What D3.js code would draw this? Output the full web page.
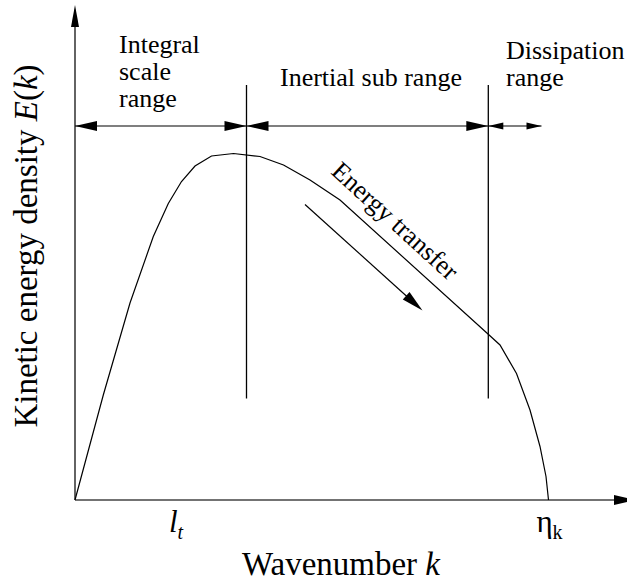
<!DOCTYPE html>
<html>
<head>
<meta charset="utf-8">
<script src="https://cdn.jsdelivr.net/npm/d3@7"></script>
<style>
  @font-face { font-family: "ChartSerif"; font-style: normal; src: local("Liberation Serif"), local("LiberationSerif"), local("Tinos"); }
  @font-face { font-family: "ChartSerif"; font-style: italic; src: local("Liberation Serif Italic"), local("LiberationSerif-Italic"), local("Tinos Italic"); }
  #chart text { font-family: "Liberation Serif", "ChartSerif", Tinos, "Nimbus Roman", FreeSerif, "DejaVu Serif", serif !important; }
</style>
</head>
<body style="margin:0">
<svg id="chart" width="627" height="585"></svg>
<script>
// Energy spectrum E(k) versus wavenumber k (arbitrary units)
const spectrumK = [0, 5.66, 11, 15.66, 18.66, 21.3, 24, 27.3, 31.7, 37, 41.7, 47, 53, 82.6, 85, 88.3, 91, 93, 94.2, 94.7];
const spectrumE = [0, 21, 39.4, 52.7, 59.3, 63.7, 66.8, 68.8, 69.3, 68.7, 67, 64, 60, 33.2, 31, 25.3, 18, 10.7, 4.7, 0];

// Boundaries between the ranges (k) and the extent of the separator lines (E)
const boundaryK = [34.3, 82.66];
const boundaryE = [20.3, 83];

// Span of each range arrow along k, drawn at level rangeLevel
const rangeSpans = [[0, 34.3], [34.3, 82.66], [82.66, 93.3]];
const rangeLevel = 74.8;

// Energy transfer arrow: start and end (k, E)
const transferArrow = [[46, 59.1], [69.5, 37.9]];

// Tick labels on the k axis
const tickK = [20.2, 94.9];
const tickLabels = [
  { main: "l", sub: "t", italic: true },
  { main: "η", sub: "k", italic: false }
];

const svg = d3.select("#chart");
const x = d3.scaleLinear().domain([0, 110]).range([75, 625]);
const y = d3.scaleLinear().domain([0, 99]).range([500, 5]);

// Filled triangular arrowhead with its tip at (tx, ty) pointing along angle a
function head(tx, ty, a, len, half) {
  const c = Math.cos(a), s = Math.sin(a);
  const bx = tx - c * len, by = ty - s * len;
  return `M${tx},${ty}L${bx - s * half},${by + c * half}L${bx + s * half},${by - c * half}Z`;
}

const fams = ["Liberation Serif", "ChartSerif", "Tinos", "Nimbus Roman", "FreeSerif", "DejaVu Serif"];
const serifStack = fams.map(f => `"${f}"`).join(", ") + ", serif";

// Serif text helper
function label(parent, size) {
  return parent.append("text").attr("font-size", size)
    .attr("font-family", serifStack)
    .style("font-family", serifStack);
}

// Axes
svg.append("line").attr("x1", x(0)).attr("y1", y(0)).attr("x2", x(0)).attr("y2", y(99) + 10)
  .attr("stroke", "#222").attr("stroke-width", 1.4);
svg.append("path").attr("d", head(x(0), y(99), -Math.PI / 2, 22, 4)).attr("fill", "#000");
svg.append("line").attr("x1", x(0)).attr("y1", y(0)).attr("x2", 620).attr("y2", y(0))
  .attr("stroke", "#444").attr("stroke-width", 1.6);
svg.append("path").attr("d", head(636, y(0), 0, 22, 5)).attr("fill", "#000");

// Spectrum curve
const line = d3.line().x((d, i) => x(spectrumK[i])).y((d, i) => y(spectrumE[i]));
svg.append("path").datum(spectrumK).attr("d", line)
  .attr("fill", "none").attr("stroke", "#000").attr("stroke-width", 1.2);

// Range boundaries
svg.selectAll(".bound").data(boundaryK).enter().append("line")
  .attr("x1", d => x(d)).attr("x2", d => x(d))
  .attr("y1", y(boundaryE[1])).attr("y2", y(boundaryE[0]))
  .attr("stroke", "#000").attr("stroke-width", 1.3);

// Double-headed range arrows
rangeSpans.forEach((sp, i) => {
  const small = i === 2;
  const len = small ? 15 : 22, half = small ? 3.5 : 5;
  const yy = y(rangeLevel);
  svg.append("line").attr("x1", x(sp[0])).attr("x2", x(sp[1])).attr("y1", yy).attr("y2", yy)
    .attr("stroke", "#000").attr("stroke-width", 1.2);
  svg.append("path").attr("d", head(x(sp[0]), yy, Math.PI, len, half)).attr("fill", "#000");
  svg.append("path").attr("d", head(x(sp[1]), yy, 0, len, half)).attr("fill", "#000");
});

// Energy transfer arrow
{
  const [p0, p1] = transferArrow;
  const x0 = x(p0[0]), y0 = y(p0[1]), x1 = x(p1[0]), y1 = y(p1[1]);
  const a = Math.atan2(y1 - y0, x1 - x0);
  svg.append("line").attr("x1", x0).attr("y1", y0)
    .attr("x2", x1 - Math.cos(a) * 12).attr("y2", y1 - Math.sin(a) * 12)
    .attr("stroke", "#000").attr("stroke-width", 1.2);
  svg.append("path").attr("d", head(x1, y1, a, 22, 5)).attr("fill", "#000");
}

// Range names
[["Integral", 119, 53], ["scale", 119, 80], ["range", 119, 107],
 ["Inertial sub range", 280, 86],
 ["Dissipation", 506, 59], ["range", 506, 86]].forEach(([t, tx, ty]) => {
  label(svg, 26).attr("x", tx).attr("y", ty).text(t);
});

// Energy transfer label along the inertial slope
label(svg, 26).attr("transform", "translate(330,173) rotate(42.4)").text("Energy transfer");

// Tick labels
tickLabels.forEach((tl, i) => {
  const t = label(svg, 31).attr("x", x(tickK[i])).attr("y", 532).attr("text-anchor", "middle");
  t.append("tspan").attr("font-style", tl.italic ? "italic" : "normal").text(tl.main);
  t.append("tspan").attr("font-style", tl.italic ? "italic" : "normal")
    .attr("font-size", 20).attr("dy", 7).text(tl.sub);
});

// Axis titles
const xt = label(svg, 33).attr("x", 341).attr("y", 575).attr("text-anchor", "middle");
xt.append("tspan").text("Wavenumber ");
xt.append("tspan").attr("font-style", "italic").text("k");

const yt = label(svg, 33).attr("transform", "translate(37,246) rotate(-90)").attr("text-anchor", "middle");
yt.append("tspan").text("Kinetic energy density ");
yt.append("tspan").attr("font-style", "italic").text("E");
yt.append("tspan").text("(");
yt.append("tspan").attr("font-style", "italic").text("k");
yt.append("tspan").text(")");
</script>
</body>
</html>
